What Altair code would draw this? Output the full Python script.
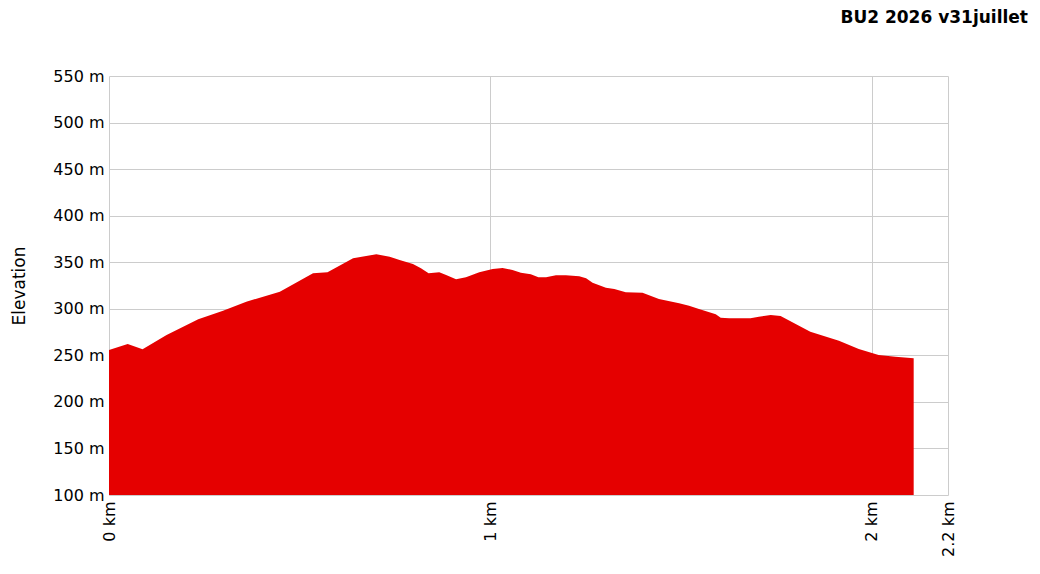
import altair as alt
import pandas as pd

distance_km = [0.0, 0.049, 0.088, 0.151, 0.234, 0.299, 0.360, 0.448, 0.535, 0.573,
               0.640, 0.701, 0.736, 0.762, 0.797, 0.818, 0.838, 0.866, 0.884, 0.910,
               0.936, 0.971, 1.006, 1.032, 1.058, 1.080, 1.106, 1.126, 1.146, 1.172,
               1.198, 1.233, 1.251, 1.268, 1.303, 1.325, 1.355, 1.399, 1.442, 1.495,
               1.521, 1.547, 1.591, 1.604, 1.626, 1.682, 1.704, 1.735, 1.761, 1.839,
               1.914, 1.966, 2.018, 2.062, 2.110]
elevation_m = [255.7, 262.2, 256.5, 271.8, 288.7, 297.9, 307.6, 318.3, 338.1, 339.2,
               354.2, 358.5, 355.9, 352.4, 348.1, 343.5, 338.1, 339.2, 336.3, 331.7,
               333.8, 339.2, 342.7, 343.8, 341.7, 338.8, 337.0, 333.8, 333.8, 336.0,
               336.0, 334.9, 332.7, 328.0, 322.6, 321.2, 317.7, 317.3, 310.5, 305.9,
               303.3, 299.8, 294.1, 290.4, 289.8, 289.8, 291.5, 293.3, 292.2, 275.4,
               265.7, 256.8, 250.4, 248.5, 246.8]
x_ticks = [0, 1, 2, 2.2]
y_ticks = [100, 150, 200, 250, 300, 350, 400, 450, 500, 550]
title_text = "BU2 2026 v31juillet"

df = pd.DataFrame({"d": distance_km, "e": elevation_m})

FONT = "DejaVu Sans"

chart = alt.Chart(df).mark_area(color="#e50000", opacity=1, interpolate="linear").encode(
    x=alt.X("d:Q", scale=alt.Scale(domain=[0, 2.2], nice=False, zero=False),
            axis=alt.Axis(values=x_ticks, title=None, labelAngle=-90,
                          labelExpr="datum.value + ' km'", labelFontSize=16,
                          labelFont=FONT, labelColor="#000", labelPadding=6,
                          ticks=False, domain=False, gridColor="#cccccc",
                          labelFlush=False, labelOverlap=False)),
    y=alt.Y("e:Q", scale=alt.Scale(domain=[100, 550], nice=False, zero=False),
            axis=alt.Axis(values=y_ticks, title="Elevation", titleFontSize=17,
                          titleFont=FONT, titleFontWeight="normal", titleColor="#000",
                          titlePadding=24,
                          labelExpr="datum.value + ' m'", labelFontSize=16,
                          labelFont=FONT, labelColor="#000", labelPadding=5,
                          ticks=False, domain=False, gridColor="#cccccc",
                          labelFlush=False, labelOverlap=False)),
    y2=alt.datum(100),
).properties(
    width=839, height=419,
    autosize=alt.AutoSizeParams(type="none"),
    padding={"left": 101, "top": 68, "right": 84, "bottom": 71},
    title=alt.TitleParams(title_text, anchor="end", dx=72, offset=41, fontSize=17,
                          font=FONT, fontWeight="bold", color="#000"),
).configure_view(stroke=None)

chart.save("out.html", embed_options={"renderer": "svg", "actions": False})
